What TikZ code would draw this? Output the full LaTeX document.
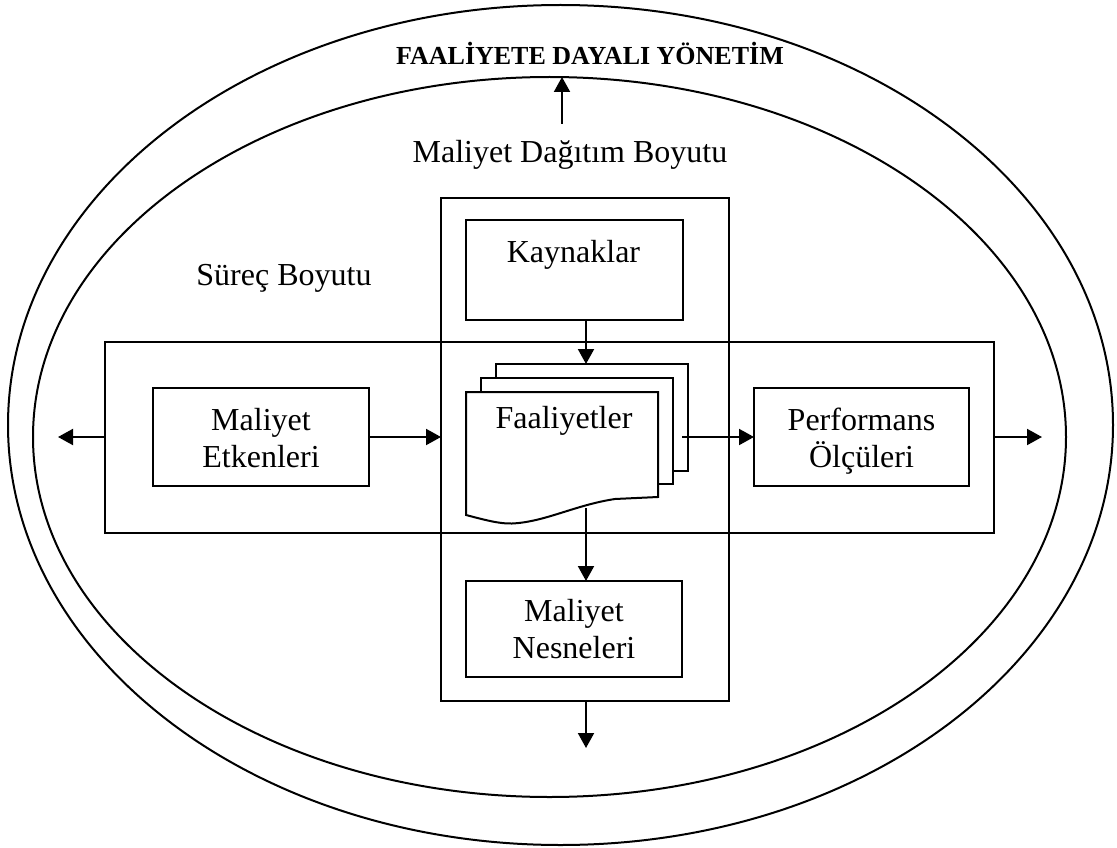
\documentclass[tikz,border=0pt]{standalone}
\usepackage{fontspec}
\setmainfont{Liberation Serif}
\usetikzlibrary{arrows.meta,shapes.geometric}
\begin{document}
\begin{tikzpicture}[x=1pt,y=-1pt,
  every node/.style={inner sep=0pt,outer sep=0pt},
  thick line/.style={line width=2pt},
  framebox/.style={draw,thick line,rectangle,anchor=center},
  ring/.style={draw,thick line,ellipse},
  page/.style={draw,thick line,fill=white,line join=miter},
  lbl/.style={font=\fontsize{32}{37}\selectfont,align=center,anchor=base},
  ttl/.style={font=\fontsize{26}{30}\selectfont\bfseries,anchor=base},
  arr/.style={thick line,-{Triangle[length=15pt,width=16pt]}}]
\useasboundingbox (0,0) rectangle (1117,848);

% management rings
\node[ring,minimum width=1105pt,minimum height=840pt] (outer) at (560.5,425) {};
\node[ring,minimum width=1033pt,minimum height=720pt] (inner) at (549.5,437) {};

% the two dimensions
\node[framebox,minimum width=288pt,minimum height=503pt] (vb) at (585,449.5) {};
\node[framebox,minimum width=889pt,minimum height=191pt] (hb) at (549.5,437.5) {};

% inner boxes
\node[framebox,minimum width=217pt,minimum height=100pt] (kay) at (574.5,270) {};
\node[framebox,minimum width=216pt,minimum height=96pt] (nes) at (574,629) {};
\node[framebox,minimum width=216pt,minimum height=98pt] (etk) at (261,437) {};
\node[framebox,minimum width=215pt,minimum height=98pt] (perf) at (861.5,437) {};

% stacked activity documents
\draw[page] (496,364) rectangle (688,471);
\draw[page] (481,378) rectangle (673,484);
\draw[page] (466,392) -- (658,392) -- (658,497) -- (615,499)
  .. controls (575,505) and (545,522) .. (512,523.5)
  .. controls (500,524) and (485,520) .. (466,515) -- cycle;
\coordinate (p3top) at (586,364);
\coordinate (p3right) at (682,437);
\coordinate (p1wave) at (586,508);

% labels (multi-line labels sit on the baseline of their last line)
\node[ttl] (title) at (590,65) {FAALİYETE DAYALI YÖNETİM};
\node[lbl] (mdb) at (570,163) {Maliyet Dağıtım Boyutu};
\node[lbl] (sb) at (284,285) {Süreç Boyutu};
\node[lbl] (kayT) at (573.5,262) {Kaynaklar};
\node[lbl] (faT) at (564,428) {Faaliyetler};
\node[lbl] (etkT) at (261,467) {Maliyet\\Etkenleri};
\node[lbl] (perfT) at (861.5,467) {Performans\\Ölçüleri};
\node[lbl] (nesT) at (574,658) {Maliyet\\Nesneleri};

% free arrow ends
\coordinate (upS) at (562,124);
\coordinate (upE) at (562,77);
\coordinate (leftE) at (58,437);
\coordinate (rightE) at (1042,437);
\coordinate (downE) at (586,748);

% connectors
\draw[arr] (upS) -- (upE);
\draw[arr] (kay.south -| p3top) -- (p3top);
\draw[arr] (p1wave) -- (nes.north -| p1wave);
\draw[arr] (etk.east) -- (etk.east -| vb.west);
\draw[arr] (p3right) -- (perf.west);
\draw[arr] (hb.west |- leftE) -- (leftE);
\draw[arr] (hb.east |- rightE) -- (rightE);
\draw[arr] (vb.south -| downE) -- (downE);
\end{tikzpicture}
\end{document}
